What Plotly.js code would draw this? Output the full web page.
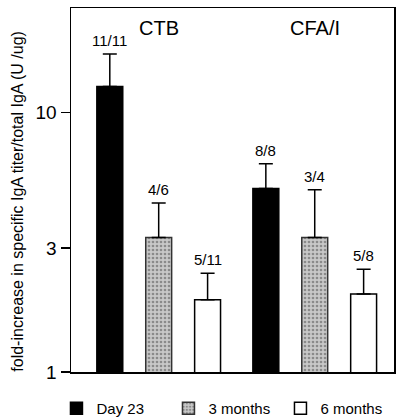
<!DOCTYPE html>
<html>
<head>
<meta charset="utf-8">
<script src="https://cdn.plot.ly/plotly-3.0.1.min.js"></script>
<style>html,body{margin:0;padding:0;background:#fff;}#chart{width:400px;height:420px;}</style>
</head>
<body>
<div id="chart"></div>
<script>
// ---- data ----
const groups = ["CTB", "CFA/I"];
const seriesNames = ["Day 23", "3 months", "6 months"];
const day23 = [12.6, 5.1];
const day23Err = [4.2, 1.25];
const day23Resp = ["11/11", "8/8"];
const months3 = [3.3, 3.3];
const months3Err = [1.18, 1.74];
const months3Resp = ["4/6", "3/4"];
const months6 = [1.9, 2.0];
const months6Err = [0.5, 0.49];
const months6Resp = ["5/11", "5/8"];
const yTicks = [1, 3, 10];
const yTitle = "fold-increase in specific IgA titer/total IgA (U /ug)";

const FONT = "Liberation Sans, Arial, Helvetica, sans-serif";
const values = [day23, months3, months6];
const errs = [day23Err, months3Err, months6Err];
const resp = [day23Resp, months3Resp, months6Resp];
const markers = [
  {color: "#000000", line: {color: "#000", width: 1.5}},
  {color: "#c4c4c4", line: {color: "#333", width: 1.5},
   pattern: {shape: ".", fgcolor: "#8a8a8a", bgcolor: "#c8c8c8", size: 4, solidity: 0.35}},
  {color: "#ffffff", line: {color: "#000", width: 1.5}}
];

const bargap = 0.06, slot = (1 - bargap) / 3;

const traces = values.map((v, s) => ({
  type: "bar",
  name: seriesNames[s],
  x: groups,
  y: v,
  marker: markers[s],
  error_y: {type: "data", symmetric: false, array: errs[s], arrayminus: v.map(() => 0),
            color: "#000", thickness: 1.5, width: 7},
  hoverinfo: "skip"
}));

const annotations = [];
values.forEach((v, s) => {
  v.forEach((val, g) => {
    annotations.push({
      x: g + (s - 1) * slot, y: Math.log10(val + errs[s][g]),
      xref: "x", yref: "y", text: resp[s][g], showarrow: false,
      yanchor: "bottom", yshift: 3,
      font: {family: FONT, size: 15, color: "#000"}
    });
  });
});
groups.forEach((g, i) => {
  annotations.push({
    x: i, y: 1, xref: "x", yref: "paper", yanchor: "top", yshift: -7,
    text: g, showarrow: false, font: {family: FONT, size: 20, color: "#000"}
  });
});
annotations.push({
  x: -0.164, y: 0.468, xref: "paper", yref: "paper", xanchor: "center", yanchor: "middle",
  text: yTitle, textangle: -90, showarrow: false,
  font: {family: FONT, size: 16, color: "#000"}
});

const layout = {
  width: 400, height: 420,
  margin: {l: 71, r: 6, t: 8, b: 48, autoexpand: false},
  paper_bgcolor: "#fff", plot_bgcolor: "#fff",
  barmode: "group", bargap: bargap, bargroupgap: 0.47,
  showlegend: true,
  legend: {orientation: "h", x: -0.045, xanchor: "left", y: -0.055, yanchor: "top",
           font: {family: FONT, size: 15, color: "#000"},
           entrywidth: 67, entrywidthmode: "pixels", itemclick: false},
  xaxis: {type: "category", range: [-0.562, 1.508], showticklabels: false, ticks: "",
          showline: true, linecolor: "#000", linewidth: 1.5, mirror: true,
          showgrid: false, zeroline: false, fixedrange: true},
  yaxis: {type: "log", range: [0, 1.403], tickvals: yTicks, ticktext: yTicks.map(String),
          ticks: "outside", ticklen: 9, tickwidth: 1.5, tickcolor: "#000",
          tickfont: {family: FONT, size: 19, color: "#000"},
          showline: true, linecolor: "#000", linewidth: 1.5, mirror: true,
          showgrid: false, zeroline: false, fixedrange: true},
  annotations: annotations,
  font: {family: FONT, color: "#000"}
};

Plotly.newPlot("chart", traces, layout, {displayModeBar: false, staticPlot: true});
</script>
</body>
</html>
